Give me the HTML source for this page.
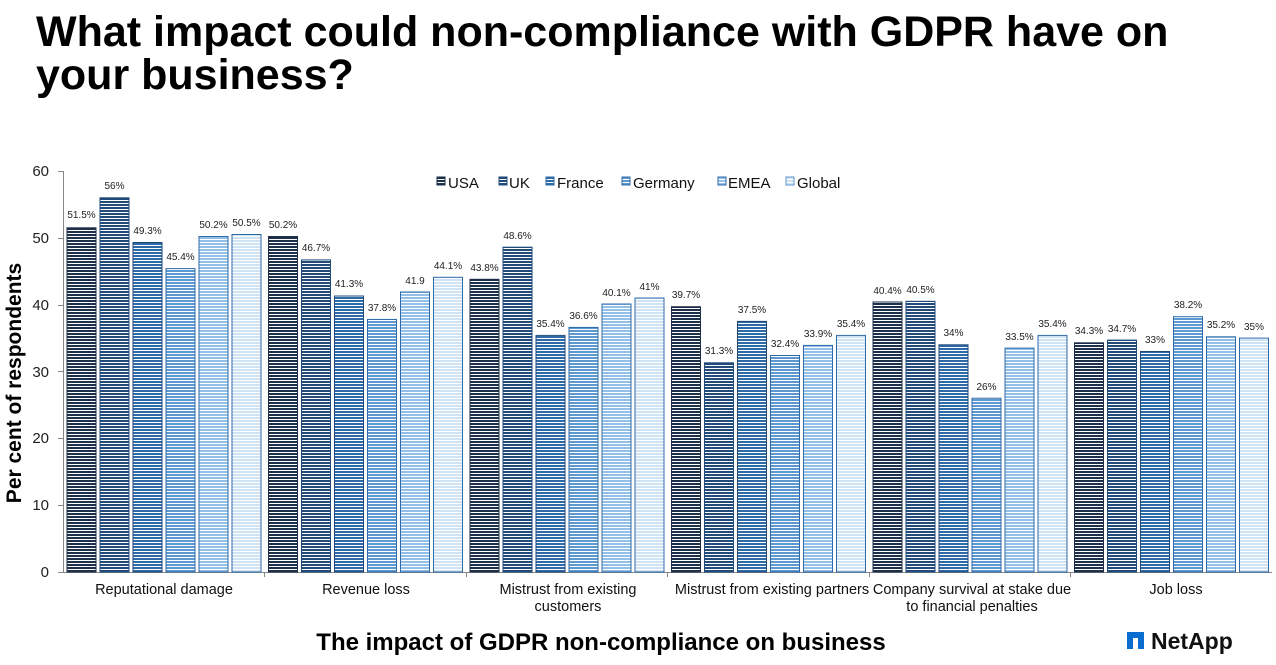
<!DOCTYPE html>
<html><head><meta charset="utf-8"><style>
body{margin:0;background:#fff;}
svg{display:block;font-family:"Liberation Sans",Arial,sans-serif;}
</style></head><body>
<svg width="1276" height="665" viewBox="0 0 1276 665">
<defs>
<pattern id="p0" width="4" height="3" patternUnits="userSpaceOnUse"><rect width="4" height="3" fill="#fff"/><rect width="4" height="2" fill="#1e2f4a"/></pattern>
<pattern id="p1" width="4" height="3" patternUnits="userSpaceOnUse"><rect width="4" height="3" fill="#fff"/><rect width="4" height="2" fill="#1f4a7a"/></pattern>
<pattern id="p2" width="4" height="3" patternUnits="userSpaceOnUse"><rect width="4" height="3" fill="#fff"/><rect width="4" height="2" fill="#2f6aa8"/></pattern>
<pattern id="p3" width="4" height="3" patternUnits="userSpaceOnUse"><rect width="4" height="3" fill="#fff"/><rect width="4" height="2" fill="#5d98d0"/></pattern>
<pattern id="p4" width="4" height="3" patternUnits="userSpaceOnUse"><rect width="4" height="3" fill="#fff"/><rect width="4" height="2" fill="#93c0e8"/></pattern>
<pattern id="p5" width="4" height="3" patternUnits="userSpaceOnUse"><rect width="4" height="3" fill="#fff"/><rect width="4" height="2" fill="#cfe3f5"/></pattern>
</defs>
<text x="36" y="46" font-size="43" font-weight="bold" fill="#000">What impact could non-compliance with GDPR have on</text>
<text x="36" y="89" font-size="43" font-weight="bold" fill="#000">your business?</text>

<g font-size="15" fill="#222" text-anchor="end">
<text x="49" y="577">0</text><text x="49" y="510">10</text><text x="49" y="443">20</text><text x="49" y="377">30</text><text x="49" y="310">40</text><text x="49" y="243">50</text><text x="49" y="176">60</text>
</g>
<g stroke="#888" stroke-width="1">
<line x1="63.5" y1="171" x2="63.5" y2="572"/>
<line x1="58" y1="171.5" x2="63" y2="171.5"/><line x1="58" y1="238.5" x2="63" y2="238.5"/><line x1="58" y1="305.5" x2="63" y2="305.5"/><line x1="58" y1="371.5" x2="63" y2="371.5"/><line x1="58" y1="438.5" x2="63" y2="438.5"/><line x1="58" y1="505.5" x2="63" y2="505.5"/>
<line x1="58" y1="572.5" x2="1272" y2="572.5"/>
<line x1="264.5" y1="572" x2="264.5" y2="577"/><line x1="466.5" y1="572" x2="466.5" y2="577"/><line x1="667.5" y1="572" x2="667.5" y2="577"/><line x1="869.5" y1="572" x2="869.5" y2="577"/><line x1="1070.5" y1="572" x2="1070.5" y2="577"/>
</g>
<text transform="translate(21,383) rotate(-90)" font-size="21" font-weight="bold" text-anchor="middle">Per cent of respondents</text>

<g font-size="15" fill="#111">
<rect x="437" y="177" width="8" height="8" fill="url(#p0)" stroke="#1e2f4a"/><text x="448" y="188">USA</text>
<rect x="499" y="177" width="8" height="8" fill="url(#p1)" stroke="#1f4a7a"/><text x="509" y="188">UK</text>
<rect x="546" y="177" width="8" height="8" fill="url(#p2)" stroke="#2f6aa8"/><text x="557" y="188">France</text>
<rect x="622" y="177" width="8" height="8" fill="url(#p3)" stroke="#2f6aa8"/><text x="633" y="188">Germany</text>
<rect x="718" y="177" width="8" height="8" fill="url(#p4)" stroke="#2f6aa8"/><text x="728" y="188">EMEA</text>
<rect x="786" y="177" width="8" height="8" fill="url(#p5)" stroke="#5d98d0"/><text x="797" y="188">Global</text>
</g>

<g font-size="10" fill="#222" text-anchor="middle">
<rect x="67" y="227.8" width="29" height="344.2" fill="url(#p0)" stroke="#1e2f4a"/><text x="81.5" y="218">51.5%</text>
<rect x="100" y="197.8" width="29" height="374.2" fill="url(#p1)" stroke="#1f4a7a"/><text x="114.5" y="189">56%</text>
<rect x="133" y="242.5" width="29" height="329.5" fill="url(#p2)" stroke="#1f4a7a"/><text x="147.5" y="234">49.3%</text>
<rect x="166" y="268.6" width="29" height="303.4" fill="url(#p3)" stroke="#2f6aa8"/><text x="180.5" y="260">45.4%</text>
<rect x="199" y="236.5" width="29" height="335.5" fill="url(#p4)" stroke="#2f6aa8"/><text x="213.5" y="228">50.2%</text>
<rect x="232" y="234.5" width="29" height="337.5" fill="url(#p5)" stroke="#2f6aa8"/><text x="246.5" y="226">50.5%</text>
<rect x="268.5" y="236.5" width="29" height="335.5" fill="url(#p0)" stroke="#1e2f4a"/><text x="283" y="228">50.2%</text>
<rect x="301.5" y="259.9" width="29" height="312.1" fill="url(#p1)" stroke="#1f4a7a"/><text x="316" y="251">46.7%</text>
<rect x="334.5" y="296" width="29" height="276" fill="url(#p2)" stroke="#1f4a7a"/><text x="349" y="287">41.3%</text>
<rect x="367.5" y="319.4" width="29" height="252.6" fill="url(#p3)" stroke="#2f6aa8"/><text x="382" y="311">37.8%</text>
<rect x="400.5" y="292" width="29" height="280" fill="url(#p4)" stroke="#2f6aa8"/><text x="415" y="284">41.9</text>
<rect x="433.5" y="277.3" width="29" height="294.7" fill="url(#p5)" stroke="#2f6aa8"/><text x="448" y="269">44.1%</text>
<rect x="470" y="279.3" width="29" height="292.7" fill="url(#p0)" stroke="#1e2f4a"/><text x="484.5" y="271">43.8%</text>
<rect x="503" y="247.2" width="29" height="324.8" fill="url(#p1)" stroke="#1f4a7a"/><text x="517.5" y="239">48.6%</text>
<rect x="536" y="335.4" width="29" height="236.6" fill="url(#p2)" stroke="#1f4a7a"/><text x="550.5" y="327">35.4%</text>
<rect x="569" y="327.4" width="29" height="244.6" fill="url(#p3)" stroke="#2f6aa8"/><text x="583.5" y="319">36.6%</text>
<rect x="602" y="304" width="29" height="268" fill="url(#p4)" stroke="#2f6aa8"/><text x="616.5" y="296">40.1%</text>
<rect x="635" y="298" width="29" height="274" fill="url(#p5)" stroke="#2f6aa8"/><text x="649.5" y="290">41%</text>
<rect x="671.5" y="306.7" width="29" height="265.3" fill="url(#p0)" stroke="#1e2f4a"/><text x="686" y="298">39.7%</text>
<rect x="704.5" y="362.8" width="29" height="209.2" fill="url(#p1)" stroke="#1f4a7a"/><text x="719" y="354">31.3%</text>
<rect x="737.5" y="321.4" width="29" height="250.6" fill="url(#p2)" stroke="#1f4a7a"/><text x="752" y="313">37.5%</text>
<rect x="770.5" y="355.5" width="29" height="216.5" fill="url(#p3)" stroke="#2f6aa8"/><text x="785" y="347">32.4%</text>
<rect x="803.5" y="345.4" width="29" height="226.6" fill="url(#p4)" stroke="#2f6aa8"/><text x="818" y="337">33.9%</text>
<rect x="836.5" y="335.4" width="29" height="236.6" fill="url(#p5)" stroke="#2f6aa8"/><text x="851" y="327">35.4%</text>
<rect x="873" y="302" width="29" height="270" fill="url(#p0)" stroke="#1e2f4a"/><text x="887.5" y="294">40.4%</text>
<rect x="906" y="301.3" width="29" height="270.7" fill="url(#p1)" stroke="#1f4a7a"/><text x="920.5" y="293">40.5%</text>
<rect x="939" y="344.8" width="29" height="227.2" fill="url(#p2)" stroke="#1f4a7a"/><text x="953.5" y="336">34%</text>
<rect x="972" y="398.2" width="29" height="173.8" fill="url(#p3)" stroke="#2f6aa8"/><text x="986.5" y="390">26%</text>
<rect x="1005" y="348.1" width="29" height="223.9" fill="url(#p4)" stroke="#2f6aa8"/><text x="1019.5" y="340">33.5%</text>
<rect x="1038" y="335.4" width="29" height="236.6" fill="url(#p5)" stroke="#2f6aa8"/><text x="1052.5" y="327">35.4%</text>
<rect x="1074.5" y="342.8" width="29" height="229.2" fill="url(#p0)" stroke="#1e2f4a"/><text x="1089" y="334">34.3%</text>
<rect x="1107.5" y="340.1" width="29" height="231.9" fill="url(#p1)" stroke="#1f4a7a"/><text x="1122" y="332">34.7%</text>
<rect x="1140.5" y="351.5" width="29" height="220.5" fill="url(#p2)" stroke="#1f4a7a"/><text x="1155" y="343">33%</text>
<rect x="1173.5" y="316.7" width="29" height="255.3" fill="url(#p3)" stroke="#2f6aa8"/><text x="1188" y="308">38.2%</text>
<rect x="1206.5" y="336.8" width="29" height="235.2" fill="url(#p4)" stroke="#2f6aa8"/><text x="1221" y="328">35.2%</text>
<rect x="1239.5" y="338.1" width="29" height="233.9" fill="url(#p5)" stroke="#2f6aa8"/><text x="1254" y="330">35%</text>
</g>

<g font-size="14.5" fill="#111" text-anchor="middle">
<text x="164" y="594">Reputational damage</text>
<text x="366" y="594">Revenue loss</text>
<text x="568" y="594">Mistrust from existing</text><text x="568" y="611">customers</text>
<text x="772" y="594">Mistrust from existing partners</text>
<text x="972" y="594">Company survival at stake due</text><text x="972" y="611">to financial penalties</text>
<text x="1176" y="594">Job loss</text>
</g>
<text x="601" y="650" font-size="24" font-weight="bold" text-anchor="middle">The impact of GDPR non-compliance on business</text>

<rect x="1127" y="632" width="17" height="17" fill="#0a6ed1"/>
<rect x="1133" y="638" width="5" height="11" fill="#fff"/>
<text x="1151" y="649" font-size="23" font-weight="bold" fill="#111">NetApp</text>
</svg>
</body></html>
